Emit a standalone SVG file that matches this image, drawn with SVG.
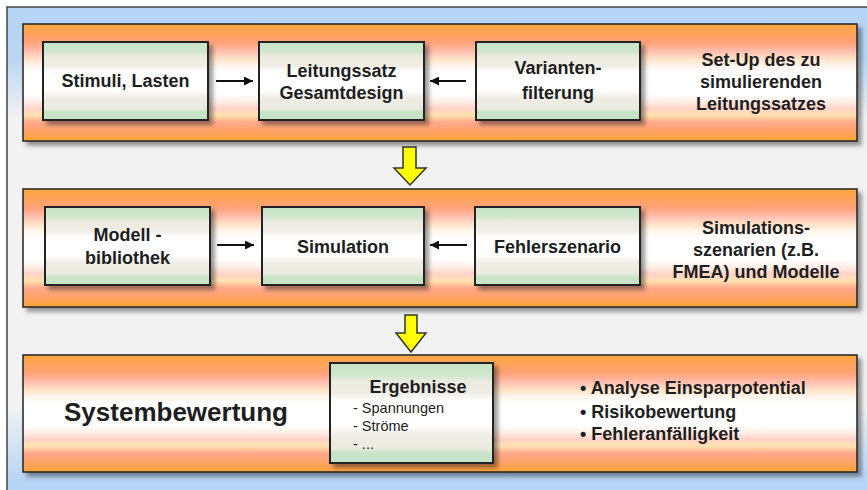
<svg xmlns="http://www.w3.org/2000/svg" width="867" height="490" viewBox="0 0 867 490">
<defs>
<linearGradient id="bg" x1="0" y1="0" x2="0" y2="1">
<stop offset="0" stop-color="#b6d4f4"/>
<stop offset="0.1" stop-color="#b9d5f2"/>
<stop offset="0.22" stop-color="#f2f2f2"/>
<stop offset="0.8" stop-color="#f2f2f2"/>
<stop offset="0.95" stop-color="#b6d4f4"/>
<stop offset="1" stop-color="#b6d4f4"/>
</linearGradient>
<linearGradient id="panel" x1="0" y1="0" x2="0" y2="1">
<stop offset="0" stop-color="#ffa640"/>
<stop offset="0.08" stop-color="#ffa35c"/>
<stop offset="0.16" stop-color="#ffa27a"/>
<stop offset="0.24" stop-color="#ffc2b4"/>
<stop offset="0.3" stop-color="#ffe4c8"/>
<stop offset="0.36" stop-color="#fff6ee"/>
<stop offset="0.42" stop-color="#ffffff"/>
<stop offset="0.6" stop-color="#ffffff"/>
<stop offset="0.66" stop-color="#fff0e8"/>
<stop offset="0.72" stop-color="#ffd2c8"/>
<stop offset="0.78" stop-color="#ffe2b0"/>
<stop offset="0.84" stop-color="#ffa88a"/>
<stop offset="0.92" stop-color="#ffa268"/>
<stop offset="1" stop-color="#ffa534"/>
</linearGradient>
<linearGradient id="box" x1="0" y1="0" x2="0" y2="1">
<stop offset="0" stop-color="#c8e4c8"/>
<stop offset="0.12" stop-color="#cfe6cc"/>
<stop offset="0.18" stop-color="#ecebe0"/>
<stop offset="0.3" stop-color="#eeece4"/>
<stop offset="0.38" stop-color="#ffffff"/>
<stop offset="0.62" stop-color="#ffffff"/>
<stop offset="0.72" stop-color="#eeece4"/>
<stop offset="0.85" stop-color="#ecebe0"/>
<stop offset="0.9" stop-color="#c8e4c8"/>
<stop offset="1" stop-color="#c8e4c8"/>
</linearGradient>
<filter id="sh" x="-5%" y="-10%" width="115%" height="130%">
<feDropShadow dx="4" dy="4" stdDeviation="2" flood-color="#000" flood-opacity="0.4"/>
</filter>
<marker id="ah" viewBox="0 0 10 10" refX="10" refY="5" markerWidth="5" markerHeight="5" orient="auto" markerUnits="userSpaceOnUse">
<path d="M0,0 L10,5 L0,10 z" fill="#111"/>
</marker>
<marker id="ah2" viewBox="0 0 10 10" refX="10" refY="5" markerWidth="9" markerHeight="9" orient="auto" markerUnits="userSpaceOnUse">
<path d="M0,0 L10,5 L0,10 z" fill="#111"/>
</marker>
</defs>
<style>
.panel{fill:url(#panel);stroke:#222;stroke-width:1.5;filter:url(#sh)}
.box{fill:url(#box);stroke:#222;stroke-width:2;filter:url(#sh)}
.t{font-family:"Liberation Sans",Arial,sans-serif;font-weight:bold;font-size:18px;fill:#1e1e1e;text-anchor:middle}
.l{font-family:"Liberation Sans",Arial,sans-serif;font-weight:bold;font-size:18px;fill:#1e1e1e}
.s{font-family:"Liberation Sans",Arial,sans-serif;font-size:14.5px;fill:#1e1e1e}
.c{stroke:#111;stroke-width:1.8;fill:none;marker-end:url(#ah2)}
.y{fill:#ffff00;stroke:#333;stroke-width:1.5;stroke-linejoin:miter}
</style>
<rect x="7" y="7" width="880" height="500" fill="url(#bg)" stroke="#444" stroke-width="1.5"/>

<g id="panel1">
<rect class="panel" x="23" y="24" width="834" height="117"/>
<text class="t" x="761" y="66">Set-Up des zu</text>
<text class="t" x="761" y="88">simulierenden</text>
<text class="t" x="761" y="110">Leitungssatzes</text>
</g>
<g id="panel2">
<rect class="panel" x="23" y="189" width="834" height="118"/>
<text class="t" x="756" y="234">Simulations-</text>
<text class="t" x="756" y="256">szenarien (z.B.</text>
<text class="t" x="756" y="278">FMEA) und Modelle</text>
</g>
<g id="panel3">
<rect class="panel" x="23" y="355" width="834" height="117"/>
<text class="t" x="176" y="421" style="font-size:26px">Systembewertung</text>
<text class="l" x="580" y="394">• Analyse Einsparpotential</text>
<text class="l" x="580" y="418">• Risikobewertung</text>
<text class="l" x="580" y="440">• Fehleranfälligkeit</text>
</g>

<g id="stimuli">
<rect class="box" x="43" y="42" width="165" height="78"/>
<text class="t" x="125.5" y="87">Stimuli, Lasten</text>
</g>
<g id="gesamtdesign">
<rect class="box" x="259" y="42" width="165" height="78"/>
<text class="t" x="341.5" y="77">Leitungssatz</text>
<text class="t" x="341.5" y="99">Gesamtdesign</text>
</g>
<g id="variantenfilterung">
<rect class="box" x="476" y="42" width="164" height="78"/>
<text class="t" x="558" y="74">Varianten-</text>
<text class="t" x="558" y="99">filterung</text>
</g>
<g id="modellbibliothek">
<rect class="box" x="45" y="207" width="165" height="78"/>
<text class="t" x="127.5" y="241">Modell -</text>
<text class="t" x="127.5" y="264">bibliothek</text>
</g>
<g id="simulation">
<rect class="box" x="262" y="207" width="162" height="78"/>
<text class="t" x="343" y="253">Simulation</text>
</g>
<g id="fehlerszenario">
<rect class="box" x="475" y="207" width="165" height="78"/>
<text class="t" x="557.5" y="253">Fehlerszenario</text>
</g>
<g id="ergebnisse">
<rect class="box" x="330" y="363" width="163" height="100"/>
<text class="t" x="418" y="393">Ergebnisse</text>
<text class="s" x="353" y="413">- Spannungen</text>
<text class="s" x="353" y="431">- Ströme</text>
<text class="s" x="353" y="449">- ...</text>
</g>

<g id="connectors">
<line class="c" x1="216" y1="81" x2="253" y2="81"/>
<line class="c" x1="466" y1="81" x2="430" y2="81"/>
<line class="c" x1="217" y1="245" x2="254" y2="245"/>
<line class="c" x1="467" y1="245" x2="430" y2="245"/>
<polygon class="y" points="403,147 416,147 416,168 426,168 410,185 394,168 403,168"/>
<polygon class="y" points="405,315 417,315 417,333 426,333 411,352 396,333 405,333"/>
</g>
</svg>
